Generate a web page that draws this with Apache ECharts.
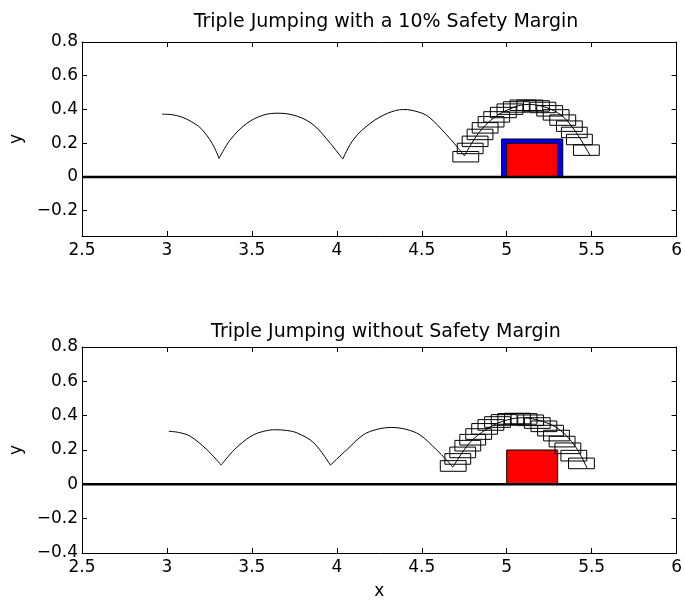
<!DOCTYPE html>
<html>
<head>
<meta charset="utf-8">
<script src="https://cdn.jsdelivr.net/npm/echarts@6/dist/echarts.min.js"></script>
<style>
  html, body { margin: 0; padding: 0; background: #fff; }
  #main { width: 685px; height: 604px; }
</style>
</head>
<body>
<div id="main"></div>
<script>
// x ticks shared by both panels
const xTicks = [2.5, 3, 3.5, 4, 4.5, 5, 5.5, 6]
const titles = ['Triple Jumping with a 10% Safety Margin', 'Triple Jumping without Safety Margin']

// top panel: trajectory arcs (x, y)
const topArc1 = [[2.972, 0.372], [3.03, 0.369], [3.085, 0.356], [3.14, 0.330], [3.20, 0.288], [3.266, 0.199], [3.307, 0.110]]
const topArc2 = [[3.307, 0.110], [3.371, 0.218], [3.469, 0.317], [3.566, 0.366], [3.654, 0.378], [3.767, 0.360], [3.864, 0.307], [3.962, 0.199], [4.035, 0.106]]
const topArc3 = [[4.035, 0.106], [4.10, 0.225], [4.20, 0.32], [4.30, 0.378], [4.393, 0.400], [4.48, 0.385], [4.541, 0.356], [4.639, 0.258], [4.716, 0.169], [4.751, 0.125]]
const topArc4 = [[4.751, 0.125], [4.833, 0.258], [4.931, 0.356], [5.048, 0.415], [5.126, 0.430], [5.223, 0.415], [5.321, 0.366], [5.399, 0.278], [5.492, 0.125]]
// top panel: robot body centres during last jump
const topBodies = [[4.759, 0.120], [4.785, 0.169], [4.814, 0.211], [4.843, 0.252], [4.873, 0.291], [4.908, 0.327], [4.941, 0.356],
  [4.980, 0.382], [5.019, 0.402], [5.057, 0.415], [5.096, 0.425], [5.136, 0.425], [5.175, 0.421], [5.213, 0.412], [5.253, 0.392],
  [5.291, 0.368], [5.330, 0.337], [5.369, 0.301], [5.398, 0.264], [5.428, 0.222], [5.469, 0.159]]
// obstacles: [x0, x1, height]
const topMargin = [[4.97, 5.33, 0.225]]
const topObstacle = [[5.0, 5.3, 0.2]]

// bottom panel
const botArc1 = [[3.011, 0.309], [3.07, 0.302], [3.137, 0.280], [3.235, 0.202], [3.319, 0.112]]
const botArc2 = [[3.319, 0.112], [3.397, 0.202], [3.494, 0.280], [3.570, 0.309], [3.640, 0.318], [3.710, 0.313], [3.767, 0.299], [3.865, 0.241], [3.962, 0.112]]
const botArc3 = [[3.962, 0.112], [4.059, 0.202], [4.157, 0.289], [4.240, 0.321], [4.322, 0.331], [4.405, 0.321], [4.488, 0.289], [4.586, 0.202], [4.644, 0.144], [4.683, 0.100]]
const botArc4 = [[4.683, 0.100], [4.781, 0.241], [4.878, 0.319], [4.976, 0.367], [5.09, 0.388], [5.21, 0.367], [5.31, 0.319], [5.404, 0.221], [5.473, 0.095]]
const botBodies = [[4.685, 0.107], [4.712, 0.148], [4.741, 0.186], [4.771, 0.225], [4.800, 0.260], [4.835, 0.293], [4.870, 0.323],
  [4.907, 0.346], [4.946, 0.363], [4.985, 0.375], [5.024, 0.381], [5.063, 0.383], [5.102, 0.381], [5.141, 0.373], [5.180, 0.357],
  [5.219, 0.338], [5.258, 0.313], [5.293, 0.284], [5.326, 0.249], [5.360, 0.210], [5.395, 0.167], [5.440, 0.122]]
const botObstacle = [[5.0, 5.3, 0.2]]

const ground = [[2.5, 0], [6, 0]]

// robot body size in data units
const bodyW = 0.152
const bodyH = 0.062

const FONT = 'DejaVu Sans'
const fmt = v => String(Math.round(v * 100) / 100).replace('-', '\u2212')

let myChart = echarts.init(document.getElementById('main'), null, { renderer: 'canvas' })

function xAxes(gi, withName) {
  const base = {
    type: 'value', gridIndex: gi, min: 2.5, max: 6, interval: 0.5,
    axisLine: { show: true, onZero: false, lineStyle: { color: '#000', width: 1 } },
    axisTick: { show: true, inside: true, length: 5, lineStyle: { color: '#000' } },
    splitLine: { show: false }
  }
  return [
    Object.assign({}, base, {
      position: 'bottom',
      axisLabel: { color: '#000', fontFamily: FONT, fontSize: 17, margin: 6, formatter: fmt },
      name: withName ? 'x' : '', nameLocation: 'middle', nameGap: 30,
      nameTextStyle: { color: '#000', fontFamily: FONT, fontSize: 17 }
    }),
    Object.assign({}, base, { position: 'top', axisLabel: { show: false } })
  ]
}

function yAxes(gi, min, interval) {
  const base = {
    type: 'value', gridIndex: gi, min: min, max: 0.8,
    axisLine: { show: true, onZero: false, lineStyle: { color: '#000', width: 1 } },
    axisTick: { show: true, inside: true, length: 5, lineStyle: { color: '#000' } },
    splitLine: { show: false }
  }
  if (interval) base.interval = interval
  else base.splitNumber = 6
  return [
    Object.assign({}, base, {
      position: 'left',
      axisLabel: { color: '#000', fontFamily: FONT, fontSize: 17, margin: 4, formatter: fmt, showMinLabel: !!interval },
      name: 'y', nameLocation: 'middle', nameGap: 57, nameRotate: 90,
      nameTextStyle: { color: '#000', fontFamily: FONT, fontSize: 17 }
    }),
    Object.assign({}, base, { position: 'right', axisLabel: { show: false } })
  ]
}

function arcSeries(data, xi, yi) {
  return { type: 'line', xAxisIndex: xi, yAxisIndex: yi, data: data, smooth: 0.35, symbol: 'none',
    lineStyle: { color: '#000', width: 1 }, z: 4, silent: true }
}

function boxSeries(data, xi, yi, fill, z) {
  return {
    type: 'custom', xAxisIndex: xi, yAxisIndex: yi, data: data, z: z, silent: true,
    renderItem: function (params, api) {
      const p0 = api.coord([api.value(0), api.value(2)])
      const p1 = api.coord([api.value(1), 0])
      return { type: 'rect', shape: { x: p0[0], y: p0[1], width: p1[0] - p0[0], height: p1[1] - p0[1] },
        style: { fill: fill, stroke: '#000', lineWidth: 1 } }
    }
  }
}

function bodySeries(data, xi, yi) {
  return {
    type: 'custom', xAxisIndex: xi, yAxisIndex: yi, data: data, z: 5, silent: true,
    renderItem: function (params, api) {
      const c = api.coord([api.value(0), api.value(1)])
      const s = api.size([bodyW, bodyH])
      return { type: 'rect', shape: { x: c[0] - s[0] / 2, y: c[1] - s[1] / 2, width: s[0], height: s[1] },
        style: { fill: 'none', stroke: '#000', lineWidth: 1 } }
    }
  }
}

function groundSeries(xi, yi) {
  return { type: 'line', xAxisIndex: xi, yAxisIndex: yi, data: ground, symbol: 'none',
    lineStyle: { color: '#000', width: 2.5 }, z: 6, silent: true }
}

let option = {
  animation: false,
  backgroundColor: '#fff',
  title: [
    { text: titles[0], left: 381, textAlign: 'center', top: 8, textStyle: { color: '#000', fontFamily: FONT, fontSize: 19, fontWeight: 'normal' } },
    { text: titles[1], left: 381, textAlign: 'center', top: 318, textStyle: { color: '#000', fontFamily: FONT, fontSize: 19, fontWeight: 'normal' } }
  ],
  grid: [
    { left: 80, right: 6, top: 42, height: 194 },
    { left: 80, right: 6, top: 347, height: 206 }
  ],
  xAxis: xAxes(0, false).concat(xAxes(1, true)),
  yAxis: yAxes(0, -0.35, null).concat(yAxes(1, -0.4, 0.2)),
  series: [
    boxSeries(topMargin, 0, 0, '#0000ff', 2),
    boxSeries(topObstacle, 0, 0, '#ff0000', 3),
    arcSeries(topArc1, 0, 0),
    arcSeries(topArc2, 0, 0),
    arcSeries(topArc3, 0, 0),
    arcSeries(topArc4, 0, 0),
    bodySeries(topBodies, 0, 0),
    groundSeries(0, 0),
    boxSeries(botObstacle, 2, 2, '#ff0000', 3),
    arcSeries(botArc1, 2, 2),
    arcSeries(botArc2, 2, 2),
    arcSeries(botArc3, 2, 2),
    arcSeries(botArc4, 2, 2),
    bodySeries(botBodies, 2, 2),
    groundSeries(2, 2)
  ]
}
myChart.setOption(option)
</script>
</body>
</html>
